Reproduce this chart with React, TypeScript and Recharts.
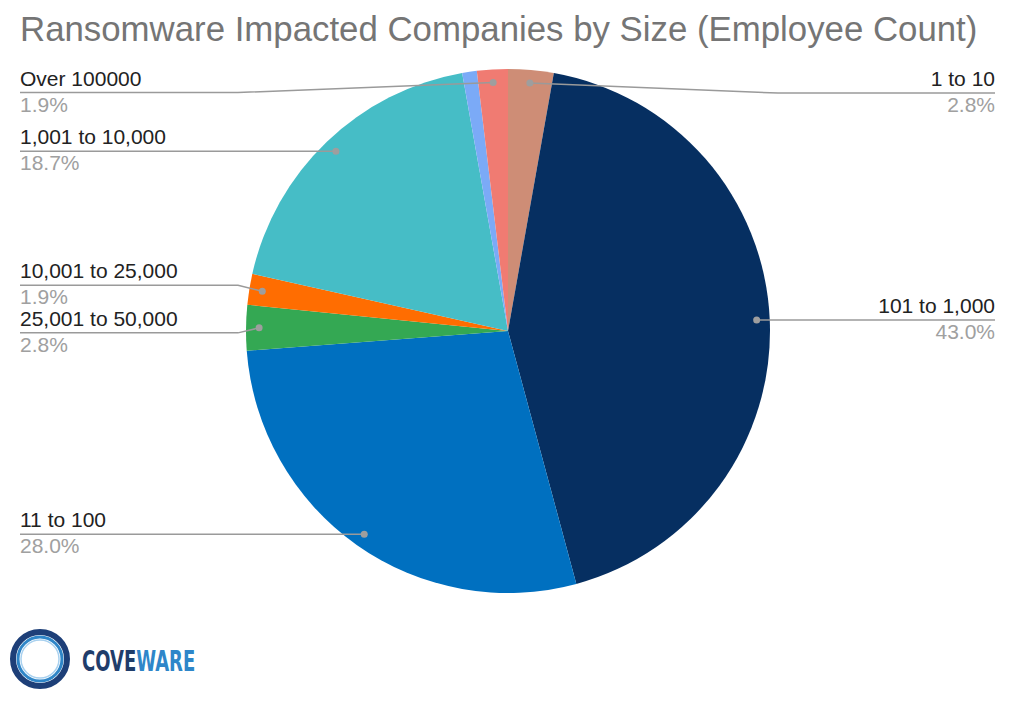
import React from "react";
import { PieChart, Pie, Cell } from "recharts";

// clockwise from 12 o'clock
const categories = [
  "1 to 10",
  "101 to 1,000",
  "11 to 100",
  "25,001 to 50,000",
  "10,001 to 25,000",
  "1,001 to 10,000",
  "50,001 to 100,000",
  "Over 100000",
];
const shares = [2.8, 43.0, 28.0, 2.8, 1.9, 18.7, 0.9, 1.9];
const COLORS = [
  "#CE8D76",
  "#062F61",
  "#0070C0",
  "#34A853",
  "#FF6D01",
  "#46BDC6",
  "#7BAAF7",
  "#F07B72",
];

const chartData = categories.map((name, i) => ({ name, value: shares[i] }));

// vertical nudges so the leader lines / labels don't collide
const labelNudge: Record<string, number> = {
  "1 to 10": 10,
  "Over 100000": 10,
  "10,001 to 25,000": -6,
  "25,001 to 50,000": 5,
};

const FONT = "'Liberation Sans', Arial, sans-serif";
const LOGO_FONT = "'DejaVu Sans Condensed', 'DejaVu Sans', sans-serif";
const RADIAN = Math.PI / 180;
const LEFT_X = 20;
const RIGHT_X = 995;

const renderLabel = (props: any) => {
  const { cx, cy, midAngle, outerRadius, name, value } = props;
  if (value < 1) return null;
  const r = outerRadius * 0.95;
  const px = cx + r * Math.cos(-midAngle * RADIAN);
  const py = cy + r * Math.sin(-midAngle * RADIAN);
  const right = px > cx;
  const ly = py + (labelNudge[name] ?? 0);
  const bendX = right ? cx + outerRadius + 8 : cx - outerRadius - 8;
  const endX = right ? RIGHT_X : LEFT_X;
  const anchor = right ? "end" : "start";
  return (
    <g>
      <polyline
        points={`${px},${py} ${bendX},${ly} ${endX},${ly}`}
        fill="none"
        stroke="#9a9a9a"
        strokeWidth={1.5}
      />
      <circle cx={px} cy={py} r={3.5} fill="#9e9e9e" />
      <text x={endX} y={ly - 7} textAnchor={anchor} fill="#222222" fontSize={21} fontFamily={FONT}>
        {name}
      </text>
      <text x={endX} y={ly + 19} textAnchor={anchor} fill="#a0a0a0" fontSize={21} fontFamily={FONT}>
        {`${value.toFixed(1)}%`}
      </text>
    </g>
  );
};

const App: React.FC = () => {
  return (
    <div style={{ position: "absolute", left: 0, top: 0, width: 1024, height: 708, background: "#fff" }}>
      <PieChart width={1024} height={708} margin={{ top: 0, right: 0, bottom: 0, left: 0 }}>
        <Pie
          data={chartData}
          dataKey="value"
          nameKey="name"
          cx={508}
          cy={331}
          outerRadius={262}
          startAngle={90}
          endAngle={-270}
          stroke="none"
          label={renderLabel}
          labelLine={false}
          isAnimationActive={false}
        >
          {chartData.map((entry, index) => (
            <Cell key={`cell-${index}`} fill={COLORS[index % COLORS.length]} />
          ))}
        </Pie>
      </PieChart>
      <svg
        width={1024}
        height={708}
        style={{ position: "absolute", left: 0, top: 0, pointerEvents: "none" }}
      >
        <text x={20} y={41} fill="#757575" fontSize={34.8} fontFamily={FONT}>
          Ransomware Impacted Companies by Size (Employee Count)
        </text>
        {/* coveware logo */}
        <circle cx={40} cy={659} r={27} fill="none" stroke="#1d3f78" strokeWidth={6} />
        <circle cx={40} cy={659} r={22} fill="none" stroke="#2f86c8" strokeWidth={3} />
        <circle cx={40} cy={659} r={19} fill="none" stroke="#a9d1ef" strokeWidth={1.5} />
        <text
          transform="translate(82,671) scale(0.69,1)"
          fontSize={29}
          fontWeight="bold"
          fontFamily={LOGO_FONT}
        >
          <tspan fill="#1f3d6b">COVE</tspan>
          <tspan fill="#2e86c9">WARE</tspan>
        </text>
      </svg>
    </div>
  );
};

export default App;
